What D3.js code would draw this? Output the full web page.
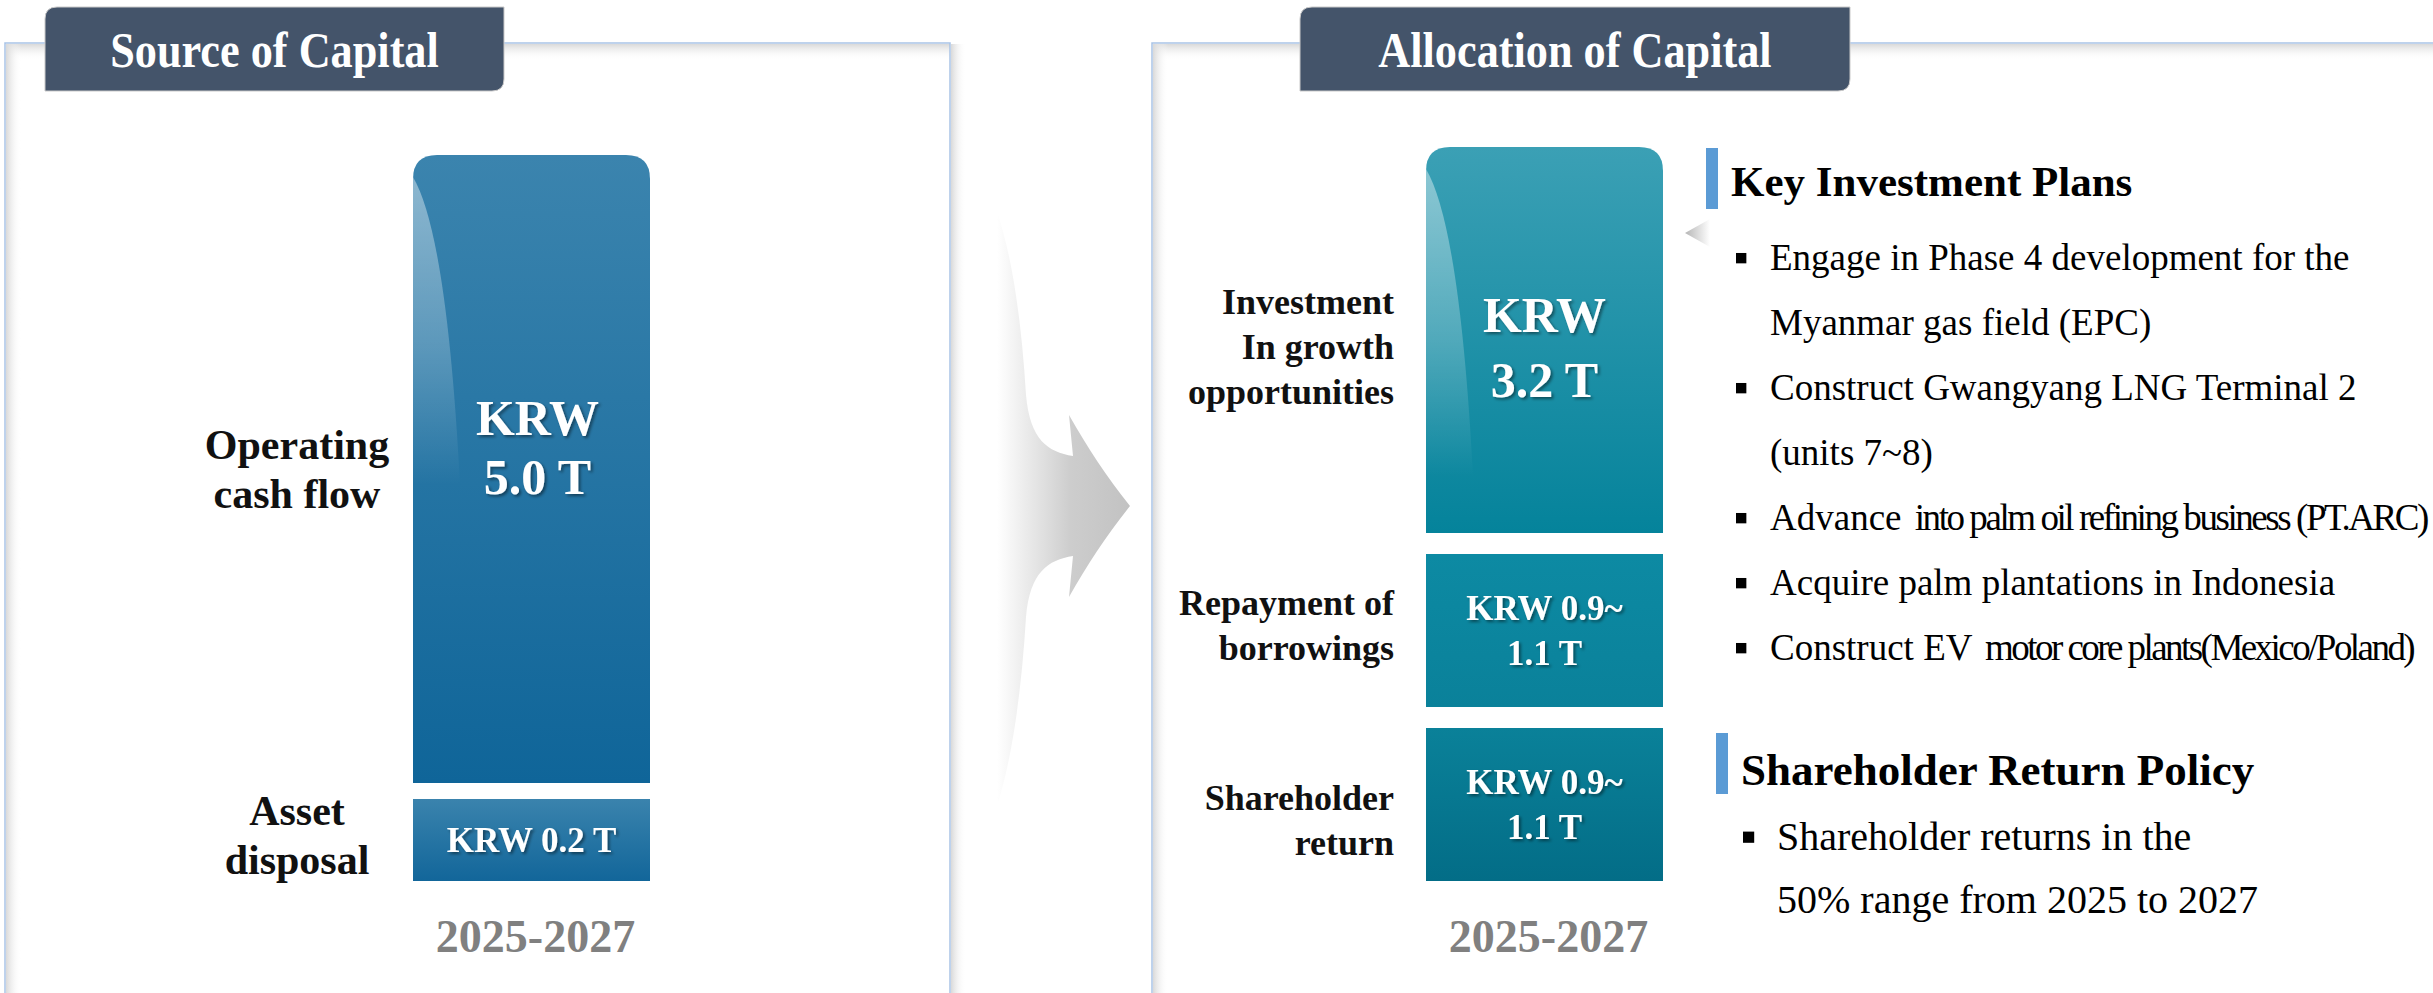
<!DOCTYPE html>
<html lang="en">
<head>
<meta charset="UTF-8">
<title>Source and Allocation of Capital</title>
<script src="https://cdn.jsdelivr.net/npm/d3@7"></script>
<style>
    body, html {
        margin: 0;
        background: #fff;
        overflow: hidden;
    }
    svg {
        display: block;
        font-family: "Liberation Serif", "Times New Roman", serif;
    }
</style>
</head>
<body>
<script>
    // ---- data ----
    const period = "2025-2027";

    const sourceTitle = "Source of Capital";
    const sourceItems = [["Operating", "cash flow"], ["Asset", "disposal"]];
    const sourceValues = [5.0, 0.2];            // KRW trillion

    const allocTitle = "Allocation of Capital";
    const allocItems = [["Investment", "In growth", "opportunities"], ["Repayment of", "borrowings"], ["Shareholder", "return"]];
    const allocLow = [3.2, 0.9, 0.9];           // KRW trillion, lower end
    const allocHigh = [3.2, 1.1, 1.1];          // KRW trillion, upper end

    const planTitle = "Key Investment Plans";
    const planItems = [
        ["Engage in Phase 4 development for the", "Myanmar gas field (EPC)"],
        ["Construct Gwangyang LNG Terminal 2", "(units 7~8)"],
        ["Advance into palm oil refining business (PT.ARC)"],
        ["Acquire palm plantations in Indonesia"],
        ["Construct EV motor core plants(Mexico/Poland)"]
    ];
    const policyTitle = "Shareholder Return Policy";
    const policyItems = [["Shareholder returns in the", "50% range from 2025 to 2027"]];

    // phrases that were typeset squeezed in the original slide
    const tightPhrases = ["into palm oil refining business (PT.ARC)", "motor core plants(Mexico/Poland)"];

    // ---- setup ----
    const width = 2433, height = 993;
    const fmt = d3.format(".1f");

    const svg = d3.select("body").append("svg")
        .attr("width", width)
        .attr("height", height);

    const defs = svg.append("defs");

    function linGrad(id, stops, vertical) {
        const g = defs.append("linearGradient").attr("id", id)
            .attr("x1", 0).attr("y1", 0)
            .attr("x2", vertical ? 0 : 1).attr("y2", vertical ? 1 : 0);
        stops.forEach(s => g.append("stop")
            .attr("offset", s[0]).attr("stop-color", s[1])
            .attr("stop-opacity", s[2] == null ? 1 : s[2]));
    }

    linGrad("shadowV", [[0, "#d9d9d9", 1], [1, "#ffffff", 0]], true);
    linGrad("shadowH", [[0, "#d9d9d9", 1], [1, "#ffffff", 0]], false);
    linGrad("arrowFill", [[0, "#ffffff"], [0.55, "#cdcdcd"], [1, "#c2c2c2"]], false);
    linGrad("pointer", [[0, "#b5b5b5"], [1, "#ffffff"]], false);
    linGrad("gloss", [[0, "#ffffff", 0.42], [0.55, "#ffffff", 0.22], [1, "#ffffff", 0]], true);

    const shadow = defs.append("filter").attr("id", "txtShadow")
        .attr("x", "-10%").attr("y", "-20%").attr("width", "130%").attr("height", "150%");
    shadow.append("feDropShadow")
        .attr("dx", 2).attr("dy", 2).attr("stdDeviation", 1.5)
        .attr("flood-color", "#000").attr("flood-opacity", 0.45);

    // ---- panels ----
    function panel(x, w, right) {
        const g = svg.append("g");
        const top = 43;
        g.append("rect").attr("x", x + 1).attr("y", top + 1).attr("width", w - 1).attr("height", 16)
            .attr("fill", "url(#shadowV)");
        g.append("rect").attr("x", x + 1).attr("y", top + 1).attr("width", 15).attr("height", height)
            .attr("fill", "url(#shadowH)");
        if (right) {
            g.append("rect").attr("x", x + w + 1).attr("y", top + 1).attr("width", 15).attr("height", height)
                .attr("fill", "url(#shadowH)");
        }
        g.append("rect").attr("x", x).attr("y", top).attr("width", w).attr("height", height)
            .attr("fill", "none").attr("stroke", "#a9c3e6").attr("stroke-width", 1.5);
    }
    panel(5, 945, true);
    panel(1152, 1400, false);

    // ---- title tabs ----
    function tab(x, w, label) {
        const y = 7, h = 84, r = 12;
        svg.append("path")
            .attr("d", `M${x},${y + r} Q${x},${y} ${x + r},${y} L${x + w},${y} L${x + w},${y + h - r} Q${x + w},${y + h} ${x + w - r},${y + h} L${x},${y + h} Z`)
            .attr("fill", "#44546a")
            .attr("stroke", "#c9c9c9")
            .attr("stroke-width", 1);
        const t = svg.append("text")
            .attr("x", x + w / 2).attr("y", 67)
            .attr("text-anchor", "middle")
            .attr("font-size", 50).attr("font-weight", "bold")
            .attr("fill", "#fff")
            .text(label);
        const len = t.node().getComputedTextLength();
        t.attr("textLength", len * 0.885).attr("lengthAdjust", "spacingAndGlyphs");
    }
    tab(45, 459, sourceTitle);
    tab(1300, 550, allocTitle);

    // ---- arrow between panels ----
    svg.append("path")
        .attr("d", "M997,212 C1014,262 1022,330 1026,395 C1030,440 1048,452 1073,456 L1069,415 " +
            "C1088,448 1106,476 1130,506 C1106,536 1088,564 1069,597 L1073,556 " +
            "C1048,560 1030,572 1026,617 C1022,682 1014,752 997,806 Z")
        .attr("fill", "url(#arrowFill)");

    // ---- stacked bars ----
    function drawStack(cfg) {
        const g = svg.append("g");
        const n = cfg.values.length;
        // stack from the bottom up, first item on top
        const bars = [];
        let yCur = cfg.bottom;
        for (let i = n - 1; i >= 0; i--) {
            const h = cfg.scale(cfg.values[i]);
            bars[i] = {top: yCur - h, h: h};
            yCur = yCur - h - cfg.gap;
        }
        const x0 = cfg.x, w = cfg.width, r = 24;

        bars.forEach((b, i) => {
            const gid = cfg.id + "grad" + i;
            linGrad(gid, [[0, cfg.colors[i][0]], [1, cfg.colors[i][1]]], true);
            if (i === 0) {
                const y0 = b.top, y1 = b.top + b.h;
                g.append("path")
                    .attr("d", `M${x0},${y1} L${x0},${y0 + r} Q${x0},${y0} ${x0 + r},${y0} L${x0 + w - r},${y0} Q${x0 + w},${y0} ${x0 + w},${y0 + r} L${x0 + w},${y1} Z`)
                    .attr("fill", `url(#${gid})`);
                // glossy sheen on the left side
                g.append("path")
                    .attr("d", `M${x0},${y0 + 22} Q${x0 + 34},${y0 + 80} ${x0 + 47},${y0 + 330} L${x0},${y0 + 330} Z`)
                    .attr("fill", "url(#gloss)");
            } else {
                g.append("rect")
                    .attr("x", x0).attr("y", b.top)
                    .attr("width", w).attr("height", b.h)
                    .attr("fill", `url(#${gid})`);
            }

            const cy = b.top + b.h / 2;
            const cx = x0 + w / 2;

            // value text inside the bar
            const lo = cfg.low[i], hi = cfg.high[i];
            let lines, fs, step, first;
            if (lo === hi && i === 0) {
                lines = ["KRW", fmt(lo) + " T"];
                fs = 50; step = cfg.bigStep;
                first = cy + cfg.bigShift;
            } else if (lo === hi) {
                lines = ["KRW " + fmt(lo) + " T"];
                fs = 35; step = 45;
                first = cy + 12;
            } else {
                lines = ["KRW " + fmt(lo) + "~", fmt(hi) + " T"];
                fs = 35; step = 45;
                first = cy - step / 2 + 12;
            }
            const vt = g.append("text")
                .attr("text-anchor", "middle")
                .attr("font-size", fs).attr("font-weight", "bold")
                .attr("fill", "#fff")
                .attr("filter", "url(#txtShadow)");
            lines.forEach((s, k) => vt.append("tspan")
                .attr("x", cx + (i === 0 ? cfg.bigDx : 0))
                .attr("y", first + k * step)
                .text(s));

            // category label
            const lab = cfg.labels[i];
            const lt = g.append("text")
                .attr("text-anchor", cfg.labelAnchor)
                .attr("font-size", cfg.labelSize).attr("font-weight", "bold")
                .attr("fill", "#111");
            const lFirst = cy - (lab.length - 1) * cfg.labelStep / 2 + cfg.labelSize * 0.34 + cfg.labelNudge[i];
            lab.forEach((s, k) => lt.append("tspan")
                .attr("x", cfg.labelX)
                .attr("y", lFirst + k * cfg.labelStep)
                .text(s));
        });

        g.append("text")
            .attr("x", x0 + w / 2 + 4).attr("y", 952)
            .attr("text-anchor", "middle")
            .attr("font-size", 46).attr("font-weight", "bold")
            .attr("fill", "#808080")
            .text(period);
    }

    const allocMid = allocLow.map((v, i) => (v + allocHigh[i]) / 2);

    drawStack({
        id: "src",
        x: 413, width: 237, bottom: 881, gap: 16,
        scale: d3.scaleLinear().domain([d3.min(sourceValues), d3.max(sourceValues)]).range([82, 628]),
        values: sourceValues, low: sourceValues, high: sourceValues,
        colors: [["#3b84ae", "#0f6599"], ["#3a83ad", "#12669a"]],
        labels: sourceItems, labelX: 297, labelAnchor: "middle",
        labelSize: 42, labelStep: 49, labelNudge: [0, -5],
        bigStep: 59, bigShift: -34, bigDx: 6
    });

    drawStack({
        id: "alloc",
        x: 1426, width: 237, bottom: 881, gap: 21,
        scale: d3.scaleLinear().domain([d3.min(allocMid), d3.max(allocMid)]).range([153, 386]),
        values: allocMid, low: allocLow, high: allocHigh,
        colors: [["#3ba0b5", "#05839b"], ["#0d8aa3", "#0a819a"], ["#0a8199", "#036d87"]],
        labels: allocItems, labelX: 1394, labelAnchor: "end",
        labelSize: 36, labelStep: 45, labelNudge: [7, -5, 16],
        bigStep: 65, bigShift: -8, bigDx: 0
    });

    // ---- right-hand notes ----
    function bulletLine(g, x, y, s, fs) {
        const hit = tightPhrases.find(p => s.includes(p));
        if (!hit) {
            g.append("text").attr("x", x).attr("y", y).attr("font-size", fs).attr("fill", "#000").text(s);
            return;
        }
        const head = s.slice(0, s.indexOf(hit));
        const t1 = g.append("text").attr("x", x).attr("y", y).attr("font-size", fs)
            .attr("fill", "#000").style("white-space", "pre").text(head);
        const w1 = t1.node().getComputedTextLength();
        const t2 = g.append("text").attr("x", x + w1 + 4).attr("y", y).attr("font-size", fs)
            .attr("fill", "#000").text(hit);
        // squeeze by tightening the letter spacing, glyphs keep their size
        const w2 = t2.node().getComputedTextLength();
        t2.style("letter-spacing", (-(w2 * 0.16) / hit.length).toFixed(2) + "px");
    }

    function notes(cfg) {
        const g = svg.append("g");
        g.append("rect")
            .attr("x", cfg.markX).attr("y", cfg.markY)
            .attr("width", 12).attr("height", 61)
            .attr("fill", "#5b9bd5");
        g.append("text")
            .attr("x", cfg.markX + 25).attr("y", cfg.titleY)
            .attr("font-size", cfg.titleSize).attr("font-weight", "bold")
            .attr("fill", "#000")
            .text(cfg.title);
        let k = 0;
        cfg.items.forEach(item => {
            item.forEach((s, j) => {
                const y = cfg.firstY + k * cfg.step;
                if (j === 0) {
                    g.append("rect")
                        .attr("x", cfg.bulletX).attr("y", y - cfg.fs * 0.46)
                        .attr("width", cfg.fs * 0.28).attr("height", cfg.fs * 0.28)
                        .attr("fill", "#000");
                }
                bulletLine(g, cfg.textX, y, s, cfg.fs);
                k++;
            });
        });
    }

    notes({
        title: planTitle, items: planItems,
        markX: 1706, markY: 148, titleY: 196, titleSize: 43,
        bulletX: 1736, textX: 1770, firstY: 270, step: 65, fs: 37
    });
    notes({
        title: policyTitle, items: policyItems,
        markX: 1716, markY: 733, titleY: 785, titleSize: 45,
        bulletX: 1743, textX: 1777, firstY: 850, step: 63, fs: 40
    });

    // small pointer next to the plans
    svg.append("path")
        .attr("d", "M1685,233 L1710,219 L1710,247 Z")
        .attr("fill", "url(#pointer)");
</script>
</body>
</html>
